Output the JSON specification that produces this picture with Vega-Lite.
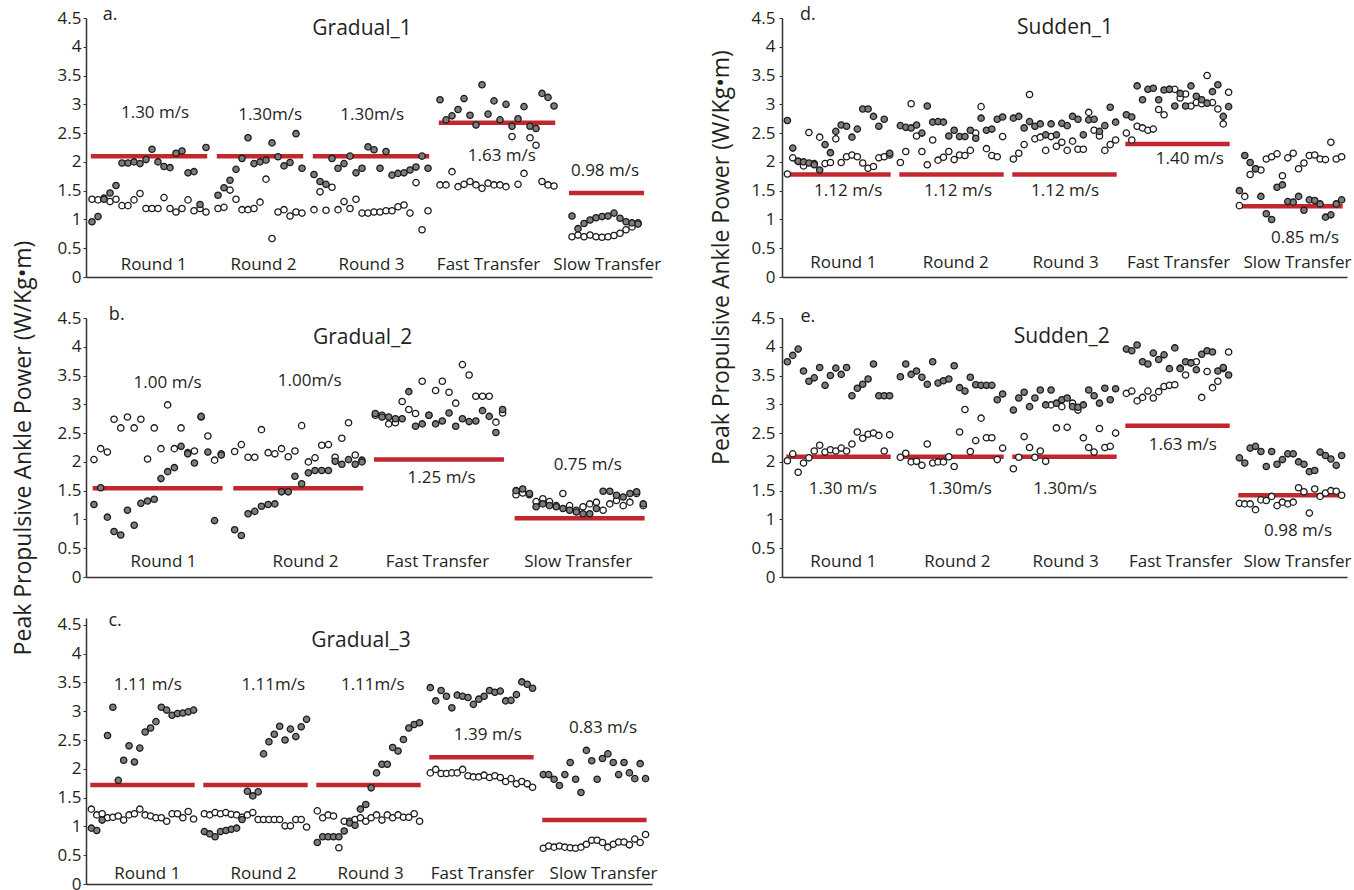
{
  "$schema": "https://vega.github.io/schema/vega-lite/v6.json",
  "background": "#ffffff",
  "padding": {"left": 12, "top": 6, "right": 5, "bottom": 0},
  "config": {
    "view": {"stroke": null},
    "axis": {"grid": false, "domainColor": "#333333", "domainWidth": 1.5, "tickColor": "#333333", "labelFont": "Open Sans", "labelFontSize": 17, "labelColor": "#231f20", "labelFlush": false, "labelOverlap": false, "labelBound": false},
    "axisX": {"ticks": false, "tickSize": 0, "labelBaseline": "alphabetic"},
    "axisY": {"tickSize": 3, "labelPadding": 2},
    "text": {"font": "Open Sans", "color": "#231f20"}
  },
  "datasets": {
    "targets": [
      {"p":"a","c":"R1","t0":0.8,"t1":20.2,"v":2.10,"speed":"1.30 m/s","lx":11.5,"ly":2.85},
      {"p":"a","c":"R2","t0":21.8,"t1":36.2,"v":2.10,"speed":"1.30m/s","lx":30.7,"ly":2.82},
      {"p":"a","c":"R3","t0":37.8,"t1":57.2,"v":2.10,"speed":"1.30m/s","lx":47.7,"ly":2.82},
      {"p":"a","c":"F","t0":58.8,"t1":78.2,"v":2.68,"speed":"1.63 m/s","lx":69.3,"ly":2.10},
      {"p":"a","c":"S","t0":80.5,"t1":93.0,"v":1.46,"speed":"0.98 m/s","lx":86.5,"ly":1.84},
      {"p":"b","c":"R1","t0":0.8,"t1":20.2,"v":1.54,"speed":"1.00 m/s","lx":12.0,"ly":3.37},
      {"p":"b","c":"R2","t0":21.8,"t1":41.2,"v":1.54,"speed":"1.00m/s","lx":33.2,"ly":3.41},
      {"p":"b","c":"F","t0":42.8,"t1":62.2,"v":2.04,"speed":"1.25 m/s","lx":52.9,"ly":1.72},
      {"p":"b","c":"S","t0":63.8,"t1":83.2,"v":1.02,"speed":"0.75 m/s","lx":74.7,"ly":1.94},
      {"p":"c","c":"R1","t0":0.8,"t1":20.2,"v":1.72,"speed":"1.11 m/s","lx":11.5,"ly":3.45},
      {"p":"c","c":"R2","t0":21.8,"t1":41.2,"v":1.72,"speed":"1.11m/s","lx":34.8,"ly":3.45},
      {"p":"c","c":"R3","t0":42.8,"t1":62.2,"v":1.72,"speed":"1.11m/s","lx":53.3,"ly":3.45},
      {"p":"c","c":"F","t0":63.8,"t1":83.2,"v":2.20,"speed":"1.39 m/s","lx":74.7,"ly":2.59},
      {"p":"c","c":"S","t0":84.8,"t1":104.2,"v":1.11,"speed":"0.83 m/s","lx":96.1,"ly":2.71},
      {"p":"d","c":"R1","t0":0.8,"t1":20.2,"v":1.78,"speed":"1.12 m/s","lx":12.3,"ly":1.49},
      {"p":"d","c":"R2","t0":21.8,"t1":41.2,"v":1.78,"speed":"1.12 m/s","lx":32.7,"ly":1.50},
      {"p":"d","c":"R3","t0":42.8,"t1":62.2,"v":1.78,"speed":"1.12 m/s","lx":52.6,"ly":1.50},
      {"p":"d","c":"F","t0":63.8,"t1":83.2,"v":2.31,"speed":"1.40 m/s","lx":75.8,"ly":2.05},
      {"p":"d","c":"S","t0":84.8,"t1":104.2,"v":1.23,"speed":"0.85 m/s","lx":97.2,"ly":0.68},
      {"p":"e","c":"R1","t0":0.8,"t1":20.2,"v":2.09,"speed":"1.30 m/s","lx":11.3,"ly":1.53},
      {"p":"e","c":"R2","t0":21.8,"t1":41.2,"v":2.09,"speed":"1.30m/s","lx":33.1,"ly":1.53},
      {"p":"e","c":"R3","t0":42.8,"t1":62.2,"v":2.09,"speed":"1.30m/s","lx":52.6,"ly":1.53},
      {"p":"e","c":"F","t0":63.8,"t1":83.2,"v":2.63,"speed":"1.63 m/s","lx":74.5,"ly":2.29},
      {"p":"e","c":"S","t0":84.8,"t1":104.2,"v":1.42,"speed":"0.98 m/s","lx":95.9,"ly":0.80}
    ],
    "pts": [
      {"p":"a","c":"R1","s":"f","t":1,"v":0.96},{"p":"a","c":"R1","s":"f","t":2,"v":1.05},{"p":"a","c":"R1","s":"f","t":3,"v":1.35},{"p":"a","c":"R1","s":"f","t":4,"v":1.46},{"p":"a","c":"R1","s":"f","t":5,"v":1.59},
      {"p":"a","c":"R1","s":"f","t":6,"v":1.98},{"p":"a","c":"R1","s":"f","t":7,"v":1.98},{"p":"a","c":"R1","s":"f","t":8,"v":2.00},{"p":"a","c":"R1","s":"f","t":9,"v":1.97},{"p":"a","c":"R1","s":"f","t":10,"v":2.04},
      {"p":"a","c":"R1","s":"f","t":11,"v":2.22},{"p":"a","c":"R1","s":"f","t":12,"v":2.00},{"p":"a","c":"R1","s":"f","t":13,"v":1.92},{"p":"a","c":"R1","s":"f","t":14,"v":1.90},{"p":"a","c":"R1","s":"f","t":15,"v":2.15},
      {"p":"a","c":"R1","s":"f","t":16,"v":2.19},{"p":"a","c":"R1","s":"f","t":17,"v":1.81},{"p":"a","c":"R1","s":"f","t":18,"v":1.83},{"p":"a","c":"R1","s":"f","t":19,"v":1.26},{"p":"a","c":"R1","s":"f","t":20,"v":2.25},
      {"p":"a","c":"R1","s":"o","t":1,"v":1.35},{"p":"a","c":"R1","s":"o","t":2,"v":1.34},{"p":"a","c":"R1","s":"o","t":3,"v":1.37},{"p":"a","c":"R1","s":"o","t":4,"v":1.31},{"p":"a","c":"R1","s":"o","t":5,"v":1.35},
      {"p":"a","c":"R1","s":"o","t":6,"v":1.24},{"p":"a","c":"R1","s":"o","t":7,"v":1.24},{"p":"a","c":"R1","s":"o","t":8,"v":1.34},{"p":"a","c":"R1","s":"o","t":9,"v":1.45},{"p":"a","c":"R1","s":"o","t":10,"v":1.19},
      {"p":"a","c":"R1","s":"o","t":11,"v":1.19},{"p":"a","c":"R1","s":"o","t":12,"v":1.19},{"p":"a","c":"R1","s":"o","t":13,"v":1.38},{"p":"a","c":"R1","s":"o","t":14,"v":1.19},{"p":"a","c":"R1","s":"o","t":15,"v":1.13},
      {"p":"a","c":"R1","s":"o","t":16,"v":1.19},{"p":"a","c":"R1","s":"o","t":17,"v":1.34},{"p":"a","c":"R1","s":"o","t":18,"v":1.15},{"p":"a","c":"R1","s":"o","t":19,"v":1.19},{"p":"a","c":"R1","s":"o","t":20,"v":1.13},
      {"p":"a","c":"R2","s":"f","t":22,"v":1.42},{"p":"a","c":"R2","s":"f","t":23,"v":1.55},{"p":"a","c":"R2","s":"f","t":24,"v":1.68},{"p":"a","c":"R2","s":"f","t":25,"v":1.87},{"p":"a","c":"R2","s":"f","t":26,"v":2.06},
      {"p":"a","c":"R2","s":"f","t":27,"v":2.42},{"p":"a","c":"R2","s":"f","t":28,"v":1.97},{"p":"a","c":"R2","s":"f","t":29,"v":2.00},{"p":"a","c":"R2","s":"f","t":30,"v":2.03},{"p":"a","c":"R2","s":"f","t":31,"v":2.33},
      {"p":"a","c":"R2","s":"f","t":32,"v":2.09},{"p":"a","c":"R2","s":"f","t":33,"v":1.93},{"p":"a","c":"R2","s":"f","t":34,"v":1.99},{"p":"a","c":"R2","s":"f","t":35,"v":2.49},{"p":"a","c":"R2","s":"f","t":36,"v":1.89},
      {"p":"a","c":"R2","s":"o","t":22,"v":1.19},{"p":"a","c":"R2","s":"o","t":23,"v":1.21},{"p":"a","c":"R2","s":"o","t":24,"v":1.51},{"p":"a","c":"R2","s":"o","t":25,"v":1.35},{"p":"a","c":"R2","s":"o","t":26,"v":1.17},
      {"p":"a","c":"R2","s":"o","t":27,"v":1.17},{"p":"a","c":"R2","s":"o","t":28,"v":1.19},{"p":"a","c":"R2","s":"o","t":29,"v":1.30},{"p":"a","c":"R2","s":"o","t":30,"v":1.70},{"p":"a","c":"R2","s":"o","t":31,"v":0.67},
      {"p":"a","c":"R2","s":"o","t":32,"v":1.13},{"p":"a","c":"R2","s":"o","t":33,"v":1.17},{"p":"a","c":"R2","s":"o","t":34,"v":1.06},{"p":"a","c":"R2","s":"o","t":35,"v":1.13},{"p":"a","c":"R2","s":"o","t":36,"v":1.11},
      {"p":"a","c":"R3","s":"f","t":38,"v":1.78},{"p":"a","c":"R3","s":"f","t":39,"v":1.66},{"p":"a","c":"R3","s":"f","t":40,"v":1.61},{"p":"a","c":"R3","s":"f","t":41,"v":2.06},{"p":"a","c":"R3","s":"f","t":42,"v":1.89},
      {"p":"a","c":"R3","s":"f","t":43,"v":1.97},{"p":"a","c":"R3","s":"f","t":44,"v":2.10},{"p":"a","c":"R3","s":"f","t":45,"v":1.81},{"p":"a","c":"R3","s":"f","t":46,"v":1.89},{"p":"a","c":"R3","s":"f","t":47,"v":2.26},
      {"p":"a","c":"R3","s":"f","t":48,"v":2.21},{"p":"a","c":"R3","s":"f","t":49,"v":1.89},{"p":"a","c":"R3","s":"f","t":50,"v":2.18},{"p":"a","c":"R3","s":"f","t":51,"v":1.77},{"p":"a","c":"R3","s":"f","t":52,"v":1.80},
      {"p":"a","c":"R3","s":"f","t":53,"v":1.81},{"p":"a","c":"R3","s":"f","t":54,"v":1.86},{"p":"a","c":"R3","s":"f","t":55,"v":1.91},{"p":"a","c":"R3","s":"f","t":56,"v":2.10},{"p":"a","c":"R3","s":"f","t":57,"v":1.89},
      {"p":"a","c":"R3","s":"o","t":38,"v":1.17},{"p":"a","c":"R3","s":"o","t":39,"v":1.48},{"p":"a","c":"R3","s":"o","t":40,"v":1.16},{"p":"a","c":"R3","s":"o","t":41,"v":1.56},{"p":"a","c":"R3","s":"o","t":42,"v":1.17},
      {"p":"a","c":"R3","s":"o","t":43,"v":1.31},{"p":"a","c":"R3","s":"o","t":44,"v":1.19},{"p":"a","c":"R3","s":"o","t":45,"v":1.35},{"p":"a","c":"R3","s":"o","t":46,"v":1.11},{"p":"a","c":"R3","s":"o","t":47,"v":1.11},
      {"p":"a","c":"R3","s":"o","t":48,"v":1.13},{"p":"a","c":"R3","s":"o","t":49,"v":1.13},{"p":"a","c":"R3","s":"o","t":50,"v":1.15},{"p":"a","c":"R3","s":"o","t":51,"v":1.15},{"p":"a","c":"R3","s":"o","t":52,"v":1.22},
      {"p":"a","c":"R3","s":"o","t":53,"v":1.25},{"p":"a","c":"R3","s":"o","t":54,"v":1.11},{"p":"a","c":"R3","s":"o","t":55,"v":1.64},{"p":"a","c":"R3","s":"o","t":56,"v":0.82},{"p":"a","c":"R3","s":"o","t":57,"v":1.15},
      {"p":"a","c":"F","s":"f","t":59,"v":3.08},{"p":"a","c":"F","s":"f","t":60,"v":2.73},{"p":"a","c":"F","s":"f","t":61,"v":2.80},{"p":"a","c":"F","s":"f","t":62,"v":2.91},{"p":"a","c":"F","s":"f","t":63,"v":3.10},
      {"p":"a","c":"F","s":"f","t":64,"v":2.81},{"p":"a","c":"F","s":"f","t":65,"v":2.64},{"p":"a","c":"F","s":"f","t":66,"v":3.34},{"p":"a","c":"F","s":"f","t":67,"v":2.83},{"p":"a","c":"F","s":"f","t":68,"v":3.06},
      {"p":"a","c":"F","s":"f","t":69,"v":2.73},{"p":"a","c":"F","s":"f","t":70,"v":3.00},{"p":"a","c":"F","s":"f","t":71,"v":2.62},{"p":"a","c":"F","s":"f","t":72,"v":2.75},{"p":"a","c":"F","s":"f","t":73,"v":2.96},
      {"p":"a","c":"F","s":"f","t":74,"v":2.62},{"p":"a","c":"F","s":"f","t":75,"v":2.58},{"p":"a","c":"F","s":"f","t":76,"v":3.19},{"p":"a","c":"F","s":"f","t":77,"v":3.12},{"p":"a","c":"F","s":"f","t":78,"v":2.97},
      {"p":"a","c":"F","s":"o","t":59,"v":1.60},{"p":"a","c":"F","s":"o","t":60,"v":1.60},{"p":"a","c":"F","s":"o","t":61,"v":1.83},{"p":"a","c":"F","s":"o","t":62,"v":1.57},{"p":"a","c":"F","s":"o","t":63,"v":1.61},
      {"p":"a","c":"F","s":"o","t":64,"v":1.66},{"p":"a","c":"F","s":"o","t":65,"v":1.60},{"p":"a","c":"F","s":"o","t":66,"v":1.54},{"p":"a","c":"F","s":"o","t":67,"v":1.63},{"p":"a","c":"F","s":"o","t":68,"v":1.60},
      {"p":"a","c":"F","s":"o","t":69,"v":1.60},{"p":"a","c":"F","s":"o","t":70,"v":1.57},{"p":"a","c":"F","s":"o","t":71,"v":2.44},{"p":"a","c":"F","s":"o","t":72,"v":1.61},{"p":"a","c":"F","s":"o","t":73,"v":1.80},
      {"p":"a","c":"F","s":"o","t":74,"v":2.42},{"p":"a","c":"F","s":"o","t":75,"v":2.29},{"p":"a","c":"F","s":"o","t":76,"v":1.66},{"p":"a","c":"F","s":"o","t":77,"v":1.60},{"p":"a","c":"F","s":"o","t":78,"v":1.58},
      {"p":"a","c":"S","s":"f","t":81,"v":1.06},{"p":"a","c":"S","s":"f","t":82,"v":0.84},{"p":"a","c":"S","s":"f","t":83,"v":0.93},{"p":"a","c":"S","s":"f","t":84,"v":0.99},{"p":"a","c":"S","s":"f","t":85,"v":1.03},{"p":"a","c":"S","s":"f","t":86,"v":1.05},
      {"p":"a","c":"S","s":"f","t":87,"v":1.06},{"p":"a","c":"S","s":"f","t":88,"v":1.11},{"p":"a","c":"S","s":"f","t":89,"v":1.02},{"p":"a","c":"S","s":"f","t":90,"v":0.96},{"p":"a","c":"S","s":"f","t":91,"v":0.94},{"p":"a","c":"S","s":"f","t":92,"v":0.92},
      {"p":"a","c":"S","s":"o","t":81,"v":0.70},{"p":"a","c":"S","s":"o","t":82,"v":0.73},{"p":"a","c":"S","s":"o","t":83,"v":0.70},{"p":"a","c":"S","s":"o","t":84,"v":0.73},{"p":"a","c":"S","s":"o","t":85,"v":0.70},{"p":"a","c":"S","s":"o","t":86,"v":0.69},
      {"p":"a","c":"S","s":"o","t":87,"v":0.70},{"p":"a","c":"S","s":"o","t":88,"v":0.72},{"p":"a","c":"S","s":"o","t":89,"v":0.76},{"p":"a","c":"S","s":"o","t":90,"v":0.82},{"p":"a","c":"S","s":"o","t":91,"v":0.87},{"p":"a","c":"S","s":"o","t":92,"v":0.94},

      {"p":"b","c":"R1","s":"f","t":1,"v":1.26},{"p":"b","c":"R1","s":"f","t":2,"v":1.55},{"p":"b","c":"R1","s":"f","t":3,"v":1.04},{"p":"b","c":"R1","s":"f","t":4,"v":0.79},{"p":"b","c":"R1","s":"f","t":5,"v":0.73},
      {"p":"b","c":"R1","s":"f","t":6,"v":1.16},{"p":"b","c":"R1","s":"f","t":7,"v":0.90},{"p":"b","c":"R1","s":"f","t":8,"v":1.28},{"p":"b","c":"R1","s":"f","t":9,"v":1.32},{"p":"b","c":"R1","s":"f","t":10,"v":1.35},
      {"p":"b","c":"R1","s":"f","t":11,"v":1.71},{"p":"b","c":"R1","s":"f","t":12,"v":1.83},{"p":"b","c":"R1","s":"f","t":13,"v":1.90},{"p":"b","c":"R1","s":"f","t":14,"v":2.27},{"p":"b","c":"R1","s":"f","t":15,"v":2.14},
      {"p":"b","c":"R1","s":"f","t":16,"v":1.98},{"p":"b","c":"R1","s":"f","t":17,"v":2.79},{"p":"b","c":"R1","s":"f","t":18,"v":2.17},{"p":"b","c":"R1","s":"f","t":19,"v":0.98},{"p":"b","c":"R1","s":"f","t":20,"v":2.12},
      {"p":"b","c":"R1","s":"o","t":1,"v":2.04},{"p":"b","c":"R1","s":"o","t":2,"v":2.23},{"p":"b","c":"R1","s":"o","t":3,"v":2.17},{"p":"b","c":"R1","s":"o","t":4,"v":2.74},{"p":"b","c":"R1","s":"o","t":5,"v":2.59},
      {"p":"b","c":"R1","s":"o","t":6,"v":2.78},{"p":"b","c":"R1","s":"o","t":7,"v":2.59},{"p":"b","c":"R1","s":"o","t":8,"v":2.74},{"p":"b","c":"R1","s":"o","t":9,"v":2.05},{"p":"b","c":"R1","s":"o","t":10,"v":2.59},
      {"p":"b","c":"R1","s":"o","t":11,"v":2.23},{"p":"b","c":"R1","s":"o","t":12,"v":2.99},{"p":"b","c":"R1","s":"o","t":13,"v":2.23},{"p":"b","c":"R1","s":"o","t":14,"v":2.59},{"p":"b","c":"R1","s":"o","t":15,"v":2.16},
      {"p":"b","c":"R1","s":"o","t":16,"v":2.19},{"p":"b","c":"R1","s":"o","t":17,"v":2.78},{"p":"b","c":"R1","s":"o","t":18,"v":2.45},{"p":"b","c":"R1","s":"o","t":19,"v":2.03},{"p":"b","c":"R1","s":"o","t":20,"v":2.14},
      {"p":"b","c":"R2","s":"f","t":22,"v":0.82},{"p":"b","c":"R2","s":"f","t":23,"v":0.72},{"p":"b","c":"R2","s":"f","t":24,"v":1.10},{"p":"b","c":"R2","s":"f","t":25,"v":1.14},{"p":"b","c":"R2","s":"f","t":26,"v":1.23},
      {"p":"b","c":"R2","s":"f","t":27,"v":1.26},{"p":"b","c":"R2","s":"f","t":28,"v":1.27},{"p":"b","c":"R2","s":"f","t":29,"v":1.48},{"p":"b","c":"R2","s":"f","t":30,"v":1.48},{"p":"b","c":"R2","s":"f","t":31,"v":1.75},
      {"p":"b","c":"R2","s":"f","t":32,"v":1.62},{"p":"b","c":"R2","s":"f","t":33,"v":1.81},{"p":"b","c":"R2","s":"f","t":34,"v":1.85},{"p":"b","c":"R2","s":"f","t":35,"v":1.85},{"p":"b","c":"R2","s":"f","t":36,"v":1.85},
      {"p":"b","c":"R2","s":"f","t":37,"v":2.01},{"p":"b","c":"R2","s":"f","t":38,"v":1.96},{"p":"b","c":"R2","s":"f","t":39,"v":2.04},{"p":"b","c":"R2","s":"f","t":40,"v":1.96},{"p":"b","c":"R2","s":"f","t":41,"v":2.00},
      {"p":"b","c":"R2","s":"o","t":22,"v":2.18},{"p":"b","c":"R2","s":"o","t":23,"v":2.30},{"p":"b","c":"R2","s":"o","t":24,"v":2.08},{"p":"b","c":"R2","s":"o","t":25,"v":2.08},{"p":"b","c":"R2","s":"o","t":26,"v":2.56},
      {"p":"b","c":"R2","s":"o","t":27,"v":2.16},{"p":"b","c":"R2","s":"o","t":28,"v":2.14},{"p":"b","c":"R2","s":"o","t":29,"v":2.23},{"p":"b","c":"R2","s":"o","t":30,"v":2.09},{"p":"b","c":"R2","s":"o","t":31,"v":2.19},
      {"p":"b","c":"R2","s":"o","t":32,"v":2.63},{"p":"b","c":"R2","s":"o","t":33,"v":2.00},{"p":"b","c":"R2","s":"o","t":34,"v":2.07},{"p":"b","c":"R2","s":"o","t":35,"v":2.29},{"p":"b","c":"R2","s":"o","t":36,"v":2.30},
      {"p":"b","c":"R2","s":"o","t":37,"v":2.08},{"p":"b","c":"R2","s":"o","t":38,"v":2.41},{"p":"b","c":"R2","s":"o","t":39,"v":2.68},{"p":"b","c":"R2","s":"o","t":40,"v":2.12},{"p":"b","c":"R2","s":"o","t":41,"v":2.03},
      {"p":"b","c":"F","s":"f","t":43,"v":2.84},{"p":"b","c":"F","s":"f","t":44,"v":2.78},{"p":"b","c":"F","s":"f","t":45,"v":2.78},{"p":"b","c":"F","s":"f","t":46,"v":2.75},{"p":"b","c":"F","s":"f","t":47,"v":2.75},
      {"p":"b","c":"F","s":"f","t":48,"v":3.22},{"p":"b","c":"F","s":"f","t":49,"v":2.62},{"p":"b","c":"F","s":"f","t":50,"v":2.66},{"p":"b","c":"F","s":"f","t":51,"v":2.81},{"p":"b","c":"F","s":"f","t":52,"v":2.66},
      {"p":"b","c":"F","s":"f","t":53,"v":2.71},{"p":"b","c":"F","s":"f","t":54,"v":2.85},{"p":"b","c":"F","s":"f","t":55,"v":2.62},{"p":"b","c":"F","s":"f","t":56,"v":2.75},{"p":"b","c":"F","s":"f","t":57,"v":2.70},
      {"p":"b","c":"F","s":"f","t":58,"v":2.71},{"p":"b","c":"F","s":"f","t":59,"v":2.89},{"p":"b","c":"F","s":"f","t":60,"v":2.79},{"p":"b","c":"F","s":"f","t":61,"v":2.51},{"p":"b","c":"F","s":"f","t":62,"v":2.91},
      {"p":"b","c":"F","s":"o","t":43,"v":2.81},{"p":"b","c":"F","s":"o","t":44,"v":2.81},{"p":"b","c":"F","s":"o","t":45,"v":2.66},{"p":"b","c":"F","s":"o","t":46,"v":2.68},{"p":"b","c":"F","s":"o","t":47,"v":3.05},
      {"p":"b","c":"F","s":"o","t":48,"v":2.91},{"p":"b","c":"F","s":"o","t":49,"v":2.84},{"p":"b","c":"F","s":"o","t":50,"v":3.40},{"p":"b","c":"F","s":"o","t":51,"v":2.81},{"p":"b","c":"F","s":"o","t":52,"v":3.24},
      {"p":"b","c":"F","s":"o","t":53,"v":3.40},{"p":"b","c":"F","s":"o","t":54,"v":3.21},{"p":"b","c":"F","s":"o","t":55,"v":3.02},{"p":"b","c":"F","s":"o","t":56,"v":3.69},{"p":"b","c":"F","s":"o","t":57,"v":3.51},
      {"p":"b","c":"F","s":"o","t":58,"v":3.14},{"p":"b","c":"F","s":"o","t":59,"v":3.14},{"p":"b","c":"F","s":"o","t":60,"v":3.14},{"p":"b","c":"F","s":"o","t":61,"v":2.69},{"p":"b","c":"F","s":"o","t":62,"v":2.85},
      {"p":"b","c":"S","s":"f","t":64,"v":1.50},{"p":"b","c":"S","s":"f","t":65,"v":1.53},{"p":"b","c":"S","s":"f","t":66,"v":1.45},{"p":"b","c":"S","s":"f","t":67,"v":1.22},{"p":"b","c":"S","s":"f","t":68,"v":1.27},
      {"p":"b","c":"S","s":"f","t":69,"v":1.24},{"p":"b","c":"S","s":"f","t":70,"v":1.22},{"p":"b","c":"S","s":"f","t":71,"v":1.19},{"p":"b","c":"S","s":"f","t":72,"v":1.16},{"p":"b","c":"S","s":"f","t":73,"v":1.13},
      {"p":"b","c":"S","s":"f","t":74,"v":1.10},{"p":"b","c":"S","s":"f","t":75,"v":1.10},{"p":"b","c":"S","s":"f","t":76,"v":1.19},{"p":"b","c":"S","s":"f","t":77,"v":1.49},{"p":"b","c":"S","s":"f","t":78,"v":1.49},
      {"p":"b","c":"S","s":"f","t":79,"v":1.42},{"p":"b","c":"S","s":"f","t":80,"v":1.39},{"p":"b","c":"S","s":"f","t":81,"v":1.45},{"p":"b","c":"S","s":"f","t":82,"v":1.48},{"p":"b","c":"S","s":"f","t":83,"v":1.27},
      {"p":"b","c":"S","s":"o","t":64,"v":1.43},{"p":"b","c":"S","s":"o","t":65,"v":1.46},{"p":"b","c":"S","s":"o","t":66,"v":1.43},{"p":"b","c":"S","s":"o","t":67,"v":1.31},{"p":"b","c":"S","s":"o","t":68,"v":1.36},
      {"p":"b","c":"S","s":"o","t":69,"v":1.31},{"p":"b","c":"S","s":"o","t":70,"v":1.24},{"p":"b","c":"S","s":"o","t":71,"v":1.45},{"p":"b","c":"S","s":"o","t":72,"v":1.24},{"p":"b","c":"S","s":"o","t":73,"v":1.16},
      {"p":"b","c":"S","s":"o","t":74,"v":1.22},{"p":"b","c":"S","s":"o","t":75,"v":1.27},{"p":"b","c":"S","s":"o","t":76,"v":1.30},{"p":"b","c":"S","s":"o","t":77,"v":1.16},{"p":"b","c":"S","s":"o","t":78,"v":1.27},
      {"p":"b","c":"S","s":"o","t":79,"v":1.33},{"p":"b","c":"S","s":"o","t":80,"v":1.24},{"p":"b","c":"S","s":"o","t":81,"v":1.30},{"p":"b","c":"S","s":"o","t":82,"v":1.45},{"p":"b","c":"S","s":"o","t":83,"v":1.24},

      {"p":"c","c":"R1","s":"f","t":1,"v":0.97},{"p":"c","c":"R1","s":"f","t":2,"v":0.93},{"p":"c","c":"R1","s":"f","t":3,"v":1.11},{"p":"c","c":"R1","s":"f","t":4,"v":2.58},{"p":"c","c":"R1","s":"f","t":5,"v":3.07},
      {"p":"c","c":"R1","s":"f","t":6,"v":1.80},{"p":"c","c":"R1","s":"f","t":7,"v":2.15},{"p":"c","c":"R1","s":"f","t":8,"v":2.40},{"p":"c","c":"R1","s":"f","t":9,"v":2.12},{"p":"c","c":"R1","s":"f","t":10,"v":2.36},
      {"p":"c","c":"R1","s":"f","t":11,"v":2.64},{"p":"c","c":"R1","s":"f","t":12,"v":2.71},{"p":"c","c":"R1","s":"f","t":13,"v":2.82},{"p":"c","c":"R1","s":"f","t":14,"v":3.07},{"p":"c","c":"R1","s":"f","t":15,"v":3.02},
      {"p":"c","c":"R1","s":"f","t":16,"v":2.93},{"p":"c","c":"R1","s":"f","t":17,"v":2.96},{"p":"c","c":"R1","s":"f","t":18,"v":2.97},{"p":"c","c":"R1","s":"f","t":19,"v":2.99},{"p":"c","c":"R1","s":"f","t":20,"v":3.02},
      {"p":"c","c":"R1","s":"o","t":1,"v":1.30},{"p":"c","c":"R1","s":"o","t":2,"v":1.20},{"p":"c","c":"R1","s":"o","t":3,"v":1.22},{"p":"c","c":"R1","s":"o","t":4,"v":1.15},{"p":"c","c":"R1","s":"o","t":5,"v":1.16},
      {"p":"c","c":"R1","s":"o","t":6,"v":1.18},{"p":"c","c":"R1","s":"o","t":7,"v":1.11},{"p":"c","c":"R1","s":"o","t":8,"v":1.20},{"p":"c","c":"R1","s":"o","t":9,"v":1.22},{"p":"c","c":"R1","s":"o","t":10,"v":1.30},
      {"p":"c","c":"R1","s":"o","t":11,"v":1.20},{"p":"c","c":"R1","s":"o","t":12,"v":1.18},{"p":"c","c":"R1","s":"o","t":13,"v":1.15},{"p":"c","c":"R1","s":"o","t":14,"v":1.15},{"p":"c","c":"R1","s":"o","t":15,"v":1.09},
      {"p":"c","c":"R1","s":"o","t":16,"v":1.22},{"p":"c","c":"R1","s":"o","t":17,"v":1.22},{"p":"c","c":"R1","s":"o","t":18,"v":1.15},{"p":"c","c":"R1","s":"o","t":19,"v":1.26},{"p":"c","c":"R1","s":"o","t":20,"v":1.13},
      {"p":"c","c":"R2","s":"f","t":22,"v":0.91},{"p":"c","c":"R2","s":"f","t":23,"v":0.87},{"p":"c","c":"R2","s":"f","t":24,"v":0.82},{"p":"c","c":"R2","s":"f","t":25,"v":0.91},{"p":"c","c":"R2","s":"f","t":26,"v":0.93},
      {"p":"c","c":"R2","s":"f","t":27,"v":0.95},{"p":"c","c":"R2","s":"f","t":28,"v":0.97},{"p":"c","c":"R2","s":"f","t":29,"v":1.12},{"p":"c","c":"R2","s":"f","t":30,"v":1.61},{"p":"c","c":"R2","s":"f","t":31,"v":1.53},
      {"p":"c","c":"R2","s":"f","t":32,"v":1.60},{"p":"c","c":"R2","s":"f","t":33,"v":2.26},{"p":"c","c":"R2","s":"f","t":34,"v":2.47},{"p":"c","c":"R2","s":"f","t":35,"v":2.60},{"p":"c","c":"R2","s":"f","t":36,"v":2.74},
      {"p":"c","c":"R2","s":"f","t":37,"v":2.50},{"p":"c","c":"R2","s":"f","t":38,"v":2.69},{"p":"c","c":"R2","s":"f","t":39,"v":2.56},{"p":"c","c":"R2","s":"f","t":40,"v":2.73},{"p":"c","c":"R2","s":"f","t":41,"v":2.86},
      {"p":"c","c":"R2","s":"o","t":22,"v":1.22},{"p":"c","c":"R2","s":"o","t":23,"v":1.20},{"p":"c","c":"R2","s":"o","t":24,"v":1.24},{"p":"c","c":"R2","s":"o","t":25,"v":1.22},{"p":"c","c":"R2","s":"o","t":26,"v":1.24},
      {"p":"c","c":"R2","s":"o","t":27,"v":1.21},{"p":"c","c":"R2","s":"o","t":28,"v":1.20},{"p":"c","c":"R2","s":"o","t":29,"v":1.16},{"p":"c","c":"R2","s":"o","t":30,"v":1.20},{"p":"c","c":"R2","s":"o","t":31,"v":1.24},
      {"p":"c","c":"R2","s":"o","t":32,"v":1.12},{"p":"c","c":"R2","s":"o","t":33,"v":1.12},{"p":"c","c":"R2","s":"o","t":34,"v":1.12},{"p":"c","c":"R2","s":"o","t":35,"v":1.12},{"p":"c","c":"R2","s":"o","t":36,"v":1.12},
      {"p":"c","c":"R2","s":"o","t":37,"v":1.01},{"p":"c","c":"R2","s":"o","t":38,"v":1.01},{"p":"c","c":"R2","s":"o","t":39,"v":1.12},{"p":"c","c":"R2","s":"o","t":40,"v":1.12},{"p":"c","c":"R2","s":"o","t":41,"v":0.99},
      {"p":"c","c":"R3","s":"f","t":43,"v":0.72},{"p":"c","c":"R3","s":"f","t":44,"v":0.82},{"p":"c","c":"R3","s":"f","t":45,"v":0.82},{"p":"c","c":"R3","s":"f","t":46,"v":0.82},{"p":"c","c":"R3","s":"f","t":47,"v":0.82},
      {"p":"c","c":"R3","s":"f","t":48,"v":0.92},{"p":"c","c":"R3","s":"f","t":49,"v":1.06},{"p":"c","c":"R3","s":"f","t":50,"v":1.02},{"p":"c","c":"R3","s":"f","t":51,"v":1.30},{"p":"c","c":"R3","s":"f","t":52,"v":1.38},
      {"p":"c","c":"R3","s":"f","t":53,"v":1.67},{"p":"c","c":"R3","s":"f","t":54,"v":1.93},{"p":"c","c":"R3","s":"f","t":55,"v":2.08},{"p":"c","c":"R3","s":"f","t":56,"v":2.08},{"p":"c","c":"R3","s":"f","t":57,"v":2.37},
      {"p":"c","c":"R3","s":"f","t":58,"v":2.31},{"p":"c","c":"R3","s":"f","t":59,"v":2.51},{"p":"c","c":"R3","s":"f","t":60,"v":2.71},{"p":"c","c":"R3","s":"f","t":61,"v":2.77},{"p":"c","c":"R3","s":"f","t":62,"v":2.80},
      {"p":"c","c":"R3","s":"o","t":43,"v":1.27},{"p":"c","c":"R3","s":"o","t":44,"v":1.15},{"p":"c","c":"R3","s":"o","t":45,"v":1.20},{"p":"c","c":"R3","s":"o","t":46,"v":1.18},{"p":"c","c":"R3","s":"o","t":47,"v":0.63},
      {"p":"c","c":"R3","s":"o","t":48,"v":1.09},{"p":"c","c":"R3","s":"o","t":49,"v":1.09},{"p":"c","c":"R3","s":"o","t":50,"v":1.12},{"p":"c","c":"R3","s":"o","t":51,"v":1.15},{"p":"c","c":"R3","s":"o","t":52,"v":1.09},
      {"p":"c","c":"R3","s":"o","t":53,"v":1.15},{"p":"c","c":"R3","s":"o","t":54,"v":1.20},{"p":"c","c":"R3","s":"o","t":55,"v":1.11},{"p":"c","c":"R3","s":"o","t":56,"v":1.20},{"p":"c","c":"R3","s":"o","t":57,"v":1.15},
      {"p":"c","c":"R3","s":"o","t":58,"v":1.20},{"p":"c","c":"R3","s":"o","t":59,"v":1.16},{"p":"c","c":"R3","s":"o","t":60,"v":1.16},{"p":"c","c":"R3","s":"o","t":61,"v":1.22},{"p":"c","c":"R3","s":"o","t":62,"v":1.09},
      {"p":"c","c":"F","s":"f","t":64,"v":3.41},{"p":"c","c":"F","s":"f","t":65,"v":3.18},{"p":"c","c":"F","s":"f","t":66,"v":3.36},{"p":"c","c":"F","s":"f","t":67,"v":3.26},{"p":"c","c":"F","s":"f","t":68,"v":3.06},
      {"p":"c","c":"F","s":"f","t":69,"v":3.28},{"p":"c","c":"F","s":"f","t":70,"v":3.26},{"p":"c","c":"F","s":"f","t":71,"v":3.24},{"p":"c","c":"F","s":"f","t":72,"v":3.12},{"p":"c","c":"F","s":"f","t":73,"v":3.21},
      {"p":"c","c":"F","s":"f","t":74,"v":3.26},{"p":"c","c":"F","s":"f","t":75,"v":3.36},{"p":"c","c":"F","s":"f","t":76,"v":3.33},{"p":"c","c":"F","s":"f","t":77,"v":3.35},{"p":"c","c":"F","s":"f","t":78,"v":3.18},
      {"p":"c","c":"F","s":"f","t":79,"v":3.19},{"p":"c","c":"F","s":"f","t":80,"v":3.29},{"p":"c","c":"F","s":"f","t":81,"v":3.51},{"p":"c","c":"F","s":"f","t":82,"v":3.47},{"p":"c","c":"F","s":"f","t":83,"v":3.40},
      {"p":"c","c":"F","s":"o","t":64,"v":1.93},{"p":"c","c":"F","s":"o","t":65,"v":1.99},{"p":"c","c":"F","s":"o","t":66,"v":1.92},{"p":"c","c":"F","s":"o","t":67,"v":1.92},{"p":"c","c":"F","s":"o","t":68,"v":1.93},
      {"p":"c","c":"F","s":"o","t":69,"v":1.93},{"p":"c","c":"F","s":"o","t":70,"v":1.99},{"p":"c","c":"F","s":"o","t":71,"v":1.88},{"p":"c","c":"F","s":"o","t":72,"v":1.86},{"p":"c","c":"F","s":"o","t":73,"v":1.86},
      {"p":"c","c":"F","s":"o","t":74,"v":1.89},{"p":"c","c":"F","s":"o","t":75,"v":1.85},{"p":"c","c":"F","s":"o","t":76,"v":1.88},{"p":"c","c":"F","s":"o","t":77,"v":1.85},{"p":"c","c":"F","s":"o","t":78,"v":1.78},
      {"p":"c","c":"F","s":"o","t":79,"v":1.83},{"p":"c","c":"F","s":"o","t":80,"v":1.74},{"p":"c","c":"F","s":"o","t":81,"v":1.78},{"p":"c","c":"F","s":"o","t":82,"v":1.74},{"p":"c","c":"F","s":"o","t":83,"v":1.68},
      {"p":"c","c":"S","s":"f","t":85,"v":1.90},{"p":"c","c":"S","s":"f","t":86,"v":1.90},{"p":"c","c":"S","s":"f","t":87,"v":1.82},{"p":"c","c":"S","s":"f","t":88,"v":1.71},{"p":"c","c":"S","s":"f","t":89,"v":1.90},
      {"p":"c","c":"S","s":"f","t":90,"v":2.11},{"p":"c","c":"S","s":"f","t":91,"v":1.82},{"p":"c","c":"S","s":"f","t":92,"v":1.59},{"p":"c","c":"S","s":"f","t":93,"v":2.32},{"p":"c","c":"S","s":"f","t":94,"v":2.14},
      {"p":"c","c":"S","s":"f","t":95,"v":1.82},{"p":"c","c":"S","s":"f","t":96,"v":2.18},{"p":"c","c":"S","s":"f","t":97,"v":2.26},{"p":"c","c":"S","s":"f","t":98,"v":2.11},{"p":"c","c":"S","s":"f","t":99,"v":1.90},
      {"p":"c","c":"S","s":"f","t":100,"v":2.11},{"p":"c","c":"S","s":"f","t":101,"v":1.93},{"p":"c","c":"S","s":"f","t":102,"v":1.83},{"p":"c","c":"S","s":"f","t":103,"v":2.09},{"p":"c","c":"S","s":"f","t":104,"v":1.83},
      {"p":"c","c":"S","s":"o","t":85,"v":0.62},{"p":"c","c":"S","s":"o","t":86,"v":0.66},{"p":"c","c":"S","s":"o","t":87,"v":0.64},{"p":"c","c":"S","s":"o","t":88,"v":0.66},{"p":"c","c":"S","s":"o","t":89,"v":0.64},
      {"p":"c","c":"S","s":"o","t":90,"v":0.63},{"p":"c","c":"S","s":"o","t":91,"v":0.62},{"p":"c","c":"S","s":"o","t":92,"v":0.64},{"p":"c","c":"S","s":"o","t":93,"v":0.69},{"p":"c","c":"S","s":"o","t":94,"v":0.76},
      {"p":"c","c":"S","s":"o","t":95,"v":0.76},{"p":"c","c":"S","s":"o","t":96,"v":0.72},{"p":"c","c":"S","s":"o","t":97,"v":0.64},{"p":"c","c":"S","s":"o","t":98,"v":0.69},{"p":"c","c":"S","s":"o","t":99,"v":0.73},
      {"p":"c","c":"S","s":"o","t":100,"v":0.73},{"p":"c","c":"S","s":"o","t":101,"v":0.68},{"p":"c","c":"S","s":"o","t":102,"v":0.78},{"p":"c","c":"S","s":"o","t":103,"v":0.72},{"p":"c","c":"S","s":"o","t":104,"v":0.86},

      {"p":"d","c":"R1","s":"f","t":1,"v":2.72},{"p":"d","c":"R1","s":"f","t":2,"v":2.24},{"p":"d","c":"R1","s":"f","t":3,"v":2.01},{"p":"d","c":"R1","s":"f","t":4,"v":2.00},{"p":"d","c":"R1","s":"f","t":5,"v":1.98},
      {"p":"d","c":"R1","s":"f","t":6,"v":1.95},{"p":"d","c":"R1","s":"f","t":7,"v":1.86},{"p":"d","c":"R1","s":"f","t":8,"v":2.30},{"p":"d","c":"R1","s":"f","t":9,"v":2.16},{"p":"d","c":"R1","s":"f","t":10,"v":2.53},
      {"p":"d","c":"R1","s":"f","t":11,"v":2.64},{"p":"d","c":"R1","s":"f","t":12,"v":2.62},{"p":"d","c":"R1","s":"f","t":13,"v":2.43},{"p":"d","c":"R1","s":"f","t":14,"v":2.57},{"p":"d","c":"R1","s":"f","t":15,"v":2.92},
      {"p":"d","c":"R1","s":"f","t":16,"v":2.92},{"p":"d","c":"R1","s":"f","t":17,"v":2.79},{"p":"d","c":"R1","s":"f","t":18,"v":2.62},{"p":"d","c":"R1","s":"f","t":19,"v":2.74},{"p":"d","c":"R1","s":"f","t":20,"v":2.15},
      {"p":"d","c":"R1","s":"o","t":1,"v":1.79},{"p":"d","c":"R1","s":"o","t":2,"v":2.07},{"p":"d","c":"R1","s":"o","t":3,"v":2.01},{"p":"d","c":"R1","s":"o","t":4,"v":1.93},{"p":"d","c":"R1","s":"o","t":5,"v":2.51},
      {"p":"d","c":"R1","s":"o","t":6,"v":1.97},{"p":"d","c":"R1","s":"o","t":7,"v":2.43},{"p":"d","c":"R1","s":"o","t":8,"v":1.97},{"p":"d","c":"R1","s":"o","t":9,"v":1.99},{"p":"d","c":"R1","s":"o","t":10,"v":2.40},
      {"p":"d","c":"R1","s":"o","t":11,"v":1.99},{"p":"d","c":"R1","s":"o","t":12,"v":2.09},{"p":"d","c":"R1","s":"o","t":13,"v":2.12},{"p":"d","c":"R1","s":"o","t":14,"v":2.09},{"p":"d","c":"R1","s":"o","t":15,"v":1.98},
      {"p":"d","c":"R1","s":"o","t":16,"v":1.89},{"p":"d","c":"R1","s":"o","t":17,"v":1.92},{"p":"d","c":"R1","s":"o","t":18,"v":2.07},{"p":"d","c":"R1","s":"o","t":19,"v":2.09},{"p":"d","c":"R1","s":"o","t":20,"v":2.12},
      {"p":"d","c":"R2","s":"f","t":22,"v":2.63},{"p":"d","c":"R2","s":"f","t":23,"v":2.60},{"p":"d","c":"R2","s":"f","t":24,"v":2.59},{"p":"d","c":"R2","s":"f","t":25,"v":2.64},{"p":"d","c":"R2","s":"f","t":26,"v":2.50},
      {"p":"d","c":"R2","s":"f","t":27,"v":2.97},{"p":"d","c":"R2","s":"f","t":28,"v":2.69},{"p":"d","c":"R2","s":"f","t":29,"v":2.70},{"p":"d","c":"R2","s":"f","t":30,"v":2.69},{"p":"d","c":"R2","s":"f","t":31,"v":2.45},
      {"p":"d","c":"R2","s":"f","t":32,"v":2.55},{"p":"d","c":"R2","s":"f","t":33,"v":2.44},{"p":"d","c":"R2","s":"f","t":34,"v":2.44},{"p":"d","c":"R2","s":"f","t":35,"v":2.55},{"p":"d","c":"R2","s":"f","t":36,"v":2.41},
      {"p":"d","c":"R2","s":"f","t":37,"v":2.76},{"p":"d","c":"R2","s":"f","t":38,"v":2.55},{"p":"d","c":"R2","s":"f","t":39,"v":2.57},{"p":"d","c":"R2","s":"f","t":40,"v":2.74},{"p":"d","c":"R2","s":"f","t":41,"v":2.78},
      {"p":"d","c":"R2","s":"o","t":22,"v":1.99},{"p":"d","c":"R2","s":"o","t":23,"v":2.18},{"p":"d","c":"R2","s":"o","t":24,"v":3.01},{"p":"d","c":"R2","s":"o","t":25,"v":2.45},{"p":"d","c":"R2","s":"o","t":26,"v":2.18},
      {"p":"d","c":"R2","s":"o","t":27,"v":1.95},{"p":"d","c":"R2","s":"o","t":28,"v":2.38},{"p":"d","c":"R2","s":"o","t":29,"v":2.03},{"p":"d","c":"R2","s":"o","t":30,"v":2.08},{"p":"d","c":"R2","s":"o","t":31,"v":2.18},
      {"p":"d","c":"R2","s":"o","t":32,"v":2.04},{"p":"d","c":"R2","s":"o","t":33,"v":2.12},{"p":"d","c":"R2","s":"o","t":34,"v":2.11},{"p":"d","c":"R2","s":"o","t":35,"v":2.20},{"p":"d","c":"R2","s":"o","t":36,"v":2.50},
      {"p":"d","c":"R2","s":"o","t":37,"v":2.96},{"p":"d","c":"R2","s":"o","t":38,"v":2.23},{"p":"d","c":"R2","s":"o","t":39,"v":2.11},{"p":"d","c":"R2","s":"o","t":40,"v":2.09},{"p":"d","c":"R2","s":"o","t":41,"v":2.44},
      {"p":"d","c":"R3","s":"f","t":43,"v":2.76},{"p":"d","c":"R3","s":"f","t":44,"v":2.79},{"p":"d","c":"R3","s":"f","t":45,"v":2.59},{"p":"d","c":"R3","s":"f","t":46,"v":2.70},{"p":"d","c":"R3","s":"f","t":47,"v":2.62},
      {"p":"d","c":"R3","s":"f","t":48,"v":2.66},{"p":"d","c":"R3","s":"f","t":49,"v":2.47},{"p":"d","c":"R3","s":"f","t":50,"v":2.66},{"p":"d","c":"R3","s":"f","t":51,"v":2.47},{"p":"d","c":"R3","s":"f","t":52,"v":2.67},
      {"p":"d","c":"R3","s":"f","t":53,"v":2.63},{"p":"d","c":"R3","s":"f","t":54,"v":2.79},{"p":"d","c":"R3","s":"f","t":55,"v":2.74},{"p":"d","c":"R3","s":"f","t":56,"v":2.47},{"p":"d","c":"R3","s":"f","t":57,"v":2.73},
      {"p":"d","c":"R3","s":"f","t":58,"v":2.74},{"p":"d","c":"R3","s":"f","t":59,"v":2.53},{"p":"d","c":"R3","s":"f","t":60,"v":2.63},{"p":"d","c":"R3","s":"f","t":61,"v":2.95},{"p":"d","c":"R3","s":"f","t":62,"v":2.69},
      {"p":"d","c":"R3","s":"o","t":43,"v":2.05},{"p":"d","c":"R3","s":"o","t":44,"v":2.15},{"p":"d","c":"R3","s":"o","t":45,"v":2.30},{"p":"d","c":"R3","s":"o","t":46,"v":3.17},{"p":"d","c":"R3","s":"o","t":47,"v":2.40},
      {"p":"d","c":"R3","s":"o","t":48,"v":2.43},{"p":"d","c":"R3","s":"o","t":49,"v":2.20},{"p":"d","c":"R3","s":"o","t":50,"v":2.44},{"p":"d","c":"R3","s":"o","t":51,"v":2.27},{"p":"d","c":"R3","s":"o","t":52,"v":2.34},
      {"p":"d","c":"R3","s":"o","t":53,"v":2.20},{"p":"d","c":"R3","s":"o","t":54,"v":2.36},{"p":"d","c":"R3","s":"o","t":55,"v":2.22},{"p":"d","c":"R3","s":"o","t":56,"v":2.22},{"p":"d","c":"R3","s":"o","t":57,"v":2.86},
      {"p":"d","c":"R3","s":"o","t":58,"v":2.55},{"p":"d","c":"R3","s":"o","t":59,"v":2.45},{"p":"d","c":"R3","s":"o","t":60,"v":2.20},{"p":"d","c":"R3","s":"o","t":61,"v":2.30},{"p":"d","c":"R3","s":"o","t":62,"v":2.38},
      {"p":"d","c":"F","s":"f","t":64,"v":2.82},{"p":"d","c":"F","s":"f","t":65,"v":2.78},{"p":"d","c":"F","s":"f","t":66,"v":3.32},{"p":"d","c":"F","s":"f","t":67,"v":3.08},{"p":"d","c":"F","s":"f","t":68,"v":3.26},
      {"p":"d","c":"F","s":"f","t":69,"v":3.28},{"p":"d","c":"F","s":"f","t":70,"v":3.08},{"p":"d","c":"F","s":"f","t":71,"v":3.25},{"p":"d","c":"F","s":"f","t":72,"v":3.26},{"p":"d","c":"F","s":"f","t":73,"v":2.97},
      {"p":"d","c":"F","s":"f","t":74,"v":3.19},{"p":"d","c":"F","s":"f","t":75,"v":2.97},{"p":"d","c":"F","s":"f","t":76,"v":3.32},{"p":"d","c":"F","s":"f","t":77,"v":3.14},{"p":"d","c":"F","s":"f","t":78,"v":3.08},
      {"p":"d","c":"F","s":"f","t":79,"v":3.02},{"p":"d","c":"F","s":"f","t":80,"v":3.22},{"p":"d","c":"F","s":"f","t":81,"v":3.34},{"p":"d","c":"F","s":"f","t":82,"v":2.79},{"p":"d","c":"F","s":"f","t":83,"v":2.96},
      {"p":"d","c":"F","s":"o","t":64,"v":2.50},{"p":"d","c":"F","s":"o","t":65,"v":2.38},{"p":"d","c":"F","s":"o","t":66,"v":2.62},{"p":"d","c":"F","s":"o","t":67,"v":2.59},{"p":"d","c":"F","s":"o","t":68,"v":2.55},
      {"p":"d","c":"F","s":"o","t":69,"v":2.57},{"p":"d","c":"F","s":"o","t":70,"v":2.91},{"p":"d","c":"F","s":"o","t":71,"v":2.82},{"p":"d","c":"F","s":"o","t":72,"v":3.26},{"p":"d","c":"F","s":"o","t":73,"v":3.26},
      {"p":"d","c":"F","s":"o","t":74,"v":3.11},{"p":"d","c":"F","s":"o","t":75,"v":3.18},{"p":"d","c":"F","s":"o","t":76,"v":2.97},{"p":"d","c":"F","s":"o","t":77,"v":3.03},{"p":"d","c":"F","s":"o","t":78,"v":3.01},
      {"p":"d","c":"F","s":"o","t":79,"v":3.50},{"p":"d","c":"F","s":"o","t":80,"v":3.03},{"p":"d","c":"F","s":"o","t":81,"v":2.92},{"p":"d","c":"F","s":"o","t":82,"v":2.66},{"p":"d","c":"F","s":"o","t":83,"v":3.21},
      {"p":"d","c":"S","s":"f","t":85,"v":1.50},{"p":"d","c":"S","s":"f","t":86,"v":2.11},{"p":"d","c":"S","s":"f","t":87,"v":1.99},{"p":"d","c":"S","s":"f","t":88,"v":1.88},{"p":"d","c":"S","s":"f","t":89,"v":1.40},
      {"p":"d","c":"S","s":"f","t":90,"v":1.10},{"p":"d","c":"S","s":"f","t":91,"v":1.00},{"p":"d","c":"S","s":"f","t":92,"v":1.56},{"p":"d","c":"S","s":"f","t":93,"v":1.60},{"p":"d","c":"S","s":"f","t":94,"v":1.31},
      {"p":"d","c":"S","s":"f","t":95,"v":1.30},{"p":"d","c":"S","s":"f","t":96,"v":1.40},{"p":"d","c":"S","s":"f","t":97,"v":1.16},{"p":"d","c":"S","s":"f","t":98,"v":1.34},{"p":"d","c":"S","s":"f","t":99,"v":1.33},
      {"p":"d","c":"S","s":"f","t":100,"v":1.27},{"p":"d","c":"S","s":"f","t":101,"v":1.04},{"p":"d","c":"S","s":"f","t":102,"v":1.08},{"p":"d","c":"S","s":"f","t":103,"v":1.27},{"p":"d","c":"S","s":"f","t":104,"v":1.34},
      {"p":"d","c":"S","s":"o","t":85,"v":1.24},{"p":"d","c":"S","s":"o","t":86,"v":1.40},{"p":"d","c":"S","s":"o","t":87,"v":1.78},{"p":"d","c":"S","s":"o","t":88,"v":1.88},{"p":"d","c":"S","s":"o","t":89,"v":1.86},
      {"p":"d","c":"S","s":"o","t":90,"v":2.05},{"p":"d","c":"S","s":"o","t":91,"v":2.09},{"p":"d","c":"S","s":"o","t":92,"v":2.14},{"p":"d","c":"S","s":"o","t":93,"v":1.76},{"p":"d","c":"S","s":"o","t":94,"v":2.07},
      {"p":"d","c":"S","s":"o","t":95,"v":2.15},{"p":"d","c":"S","s":"o","t":96,"v":1.88},{"p":"d","c":"S","s":"o","t":97,"v":1.98},{"p":"d","c":"S","s":"o","t":98,"v":2.11},{"p":"d","c":"S","s":"o","t":99,"v":2.12},
      {"p":"d","c":"S","s":"o","t":100,"v":2.05},{"p":"d","c":"S","s":"o","t":101,"v":2.04},{"p":"d","c":"S","s":"o","t":102,"v":2.34},{"p":"d","c":"S","s":"o","t":103,"v":2.05},{"p":"d","c":"S","s":"o","t":104,"v":2.09},

      {"p":"e","c":"R1","s":"f","t":1,"v":3.74},{"p":"e","c":"R1","s":"f","t":2,"v":3.85},{"p":"e","c":"R1","s":"f","t":3,"v":3.96},{"p":"e","c":"R1","s":"f","t":4,"v":3.58},{"p":"e","c":"R1","s":"f","t":5,"v":3.40},
      {"p":"e","c":"R1","s":"f","t":6,"v":3.46},{"p":"e","c":"R1","s":"f","t":7,"v":3.64},{"p":"e","c":"R1","s":"f","t":8,"v":3.33},{"p":"e","c":"R1","s":"f","t":9,"v":3.50},{"p":"e","c":"R1","s":"f","t":10,"v":3.63},
      {"p":"e","c":"R1","s":"f","t":11,"v":3.52},{"p":"e","c":"R1","s":"f","t":12,"v":3.64},{"p":"e","c":"R1","s":"f","t":13,"v":3.15},{"p":"e","c":"R1","s":"f","t":14,"v":3.28},{"p":"e","c":"R1","s":"f","t":15,"v":3.35},
      {"p":"e","c":"R1","s":"f","t":16,"v":3.44},{"p":"e","c":"R1","s":"f","t":17,"v":3.70},{"p":"e","c":"R1","s":"f","t":18,"v":3.15},{"p":"e","c":"R1","s":"f","t":19,"v":3.15},{"p":"e","c":"R1","s":"f","t":20,"v":3.15},
      {"p":"e","c":"R1","s":"o","t":1,"v":2.02},{"p":"e","c":"R1","s":"o","t":2,"v":2.14},{"p":"e","c":"R1","s":"o","t":3,"v":1.82},{"p":"e","c":"R1","s":"o","t":4,"v":1.98},{"p":"e","c":"R1","s":"o","t":5,"v":2.07},
      {"p":"e","c":"R1","s":"o","t":6,"v":2.19},{"p":"e","c":"R1","s":"o","t":7,"v":2.29},{"p":"e","c":"R1","s":"o","t":8,"v":2.17},{"p":"e","c":"R1","s":"o","t":9,"v":2.21},{"p":"e","c":"R1","s":"o","t":10,"v":2.19},
      {"p":"e","c":"R1","s":"o","t":11,"v":2.24},{"p":"e","c":"R1","s":"o","t":12,"v":2.19},{"p":"e","c":"R1","s":"o","t":13,"v":2.31},{"p":"e","c":"R1","s":"o","t":14,"v":2.52},{"p":"e","c":"R1","s":"o","t":15,"v":2.41},
      {"p":"e","c":"R1","s":"o","t":16,"v":2.48},{"p":"e","c":"R1","s":"o","t":17,"v":2.50},{"p":"e","c":"R1","s":"o","t":18,"v":2.46},{"p":"e","c":"R1","s":"o","t":19,"v":2.19},{"p":"e","c":"R1","s":"o","t":20,"v":2.47},
      {"p":"e","c":"R2","s":"f","t":22,"v":3.48},{"p":"e","c":"R2","s":"f","t":23,"v":3.70},{"p":"e","c":"R2","s":"f","t":24,"v":3.52},{"p":"e","c":"R2","s":"f","t":25,"v":3.58},{"p":"e","c":"R2","s":"f","t":26,"v":3.47},
      {"p":"e","c":"R2","s":"f","t":27,"v":3.35},{"p":"e","c":"R2","s":"f","t":28,"v":3.74},{"p":"e","c":"R2","s":"f","t":29,"v":3.37},{"p":"e","c":"R2","s":"f","t":30,"v":3.41},{"p":"e","c":"R2","s":"f","t":31,"v":3.44},
      {"p":"e","c":"R2","s":"f","t":32,"v":3.67},{"p":"e","c":"R2","s":"f","t":33,"v":3.29},{"p":"e","c":"R2","s":"f","t":34,"v":3.23},{"p":"e","c":"R2","s":"f","t":35,"v":3.47},{"p":"e","c":"R2","s":"f","t":36,"v":3.34},
      {"p":"e","c":"R2","s":"f","t":37,"v":3.33},{"p":"e","c":"R2","s":"f","t":38,"v":3.33},{"p":"e","c":"R2","s":"f","t":39,"v":3.33},{"p":"e","c":"R2","s":"f","t":40,"v":3.08},{"p":"e","c":"R2","s":"f","t":41,"v":3.18},
      {"p":"e","c":"R2","s":"o","t":22,"v":2.08},{"p":"e","c":"R2","s":"o","t":23,"v":2.15},{"p":"e","c":"R2","s":"o","t":24,"v":2.00},{"p":"e","c":"R2","s":"o","t":25,"v":2.01},{"p":"e","c":"R2","s":"o","t":26,"v":1.94},
      {"p":"e","c":"R2","s":"o","t":27,"v":2.31},{"p":"e","c":"R2","s":"o","t":28,"v":1.98},{"p":"e","c":"R2","s":"o","t":29,"v":2.00},{"p":"e","c":"R2","s":"o","t":30,"v":2.00},{"p":"e","c":"R2","s":"o","t":31,"v":2.09},
      {"p":"e","c":"R2","s":"o","t":32,"v":1.92},{"p":"e","c":"R2","s":"o","t":33,"v":2.52},{"p":"e","c":"R2","s":"o","t":34,"v":2.91},{"p":"e","c":"R2","s":"o","t":35,"v":2.18},{"p":"e","c":"R2","s":"o","t":36,"v":2.37},
      {"p":"e","c":"R2","s":"o","t":37,"v":2.76},{"p":"e","c":"R2","s":"o","t":38,"v":2.42},{"p":"e","c":"R2","s":"o","t":39,"v":2.42},{"p":"e","c":"R2","s":"o","t":40,"v":2.04},{"p":"e","c":"R2","s":"o","t":41,"v":2.24},
      {"p":"e","c":"R3","s":"f","t":43,"v":2.90},{"p":"e","c":"R3","s":"f","t":44,"v":3.11},{"p":"e","c":"R3","s":"f","t":45,"v":3.21},{"p":"e","c":"R3","s":"f","t":46,"v":2.96},{"p":"e","c":"R3","s":"f","t":47,"v":3.11},
      {"p":"e","c":"R3","s":"f","t":48,"v":3.25},{"p":"e","c":"R3","s":"f","t":49,"v":2.99},{"p":"e","c":"R3","s":"f","t":50,"v":3.25},{"p":"e","c":"R3","s":"f","t":51,"v":3.02},{"p":"e","c":"R3","s":"f","t":52,"v":3.08},
      {"p":"e","c":"R3","s":"f","t":53,"v":3.11},{"p":"e","c":"R3","s":"f","t":54,"v":2.96},{"p":"e","c":"R3","s":"f","t":55,"v":2.95},{"p":"e","c":"R3","s":"f","t":56,"v":2.99},{"p":"e","c":"R3","s":"f","t":57,"v":3.25},
      {"p":"e","c":"R3","s":"f","t":58,"v":3.15},{"p":"e","c":"R3","s":"f","t":59,"v":3.02},{"p":"e","c":"R3","s":"f","t":60,"v":3.28},{"p":"e","c":"R3","s":"f","t":61,"v":3.08},{"p":"e","c":"R3","s":"f","t":62,"v":3.27},
      {"p":"e","c":"R3","s":"o","t":43,"v":1.88},{"p":"e","c":"R3","s":"o","t":44,"v":2.08},{"p":"e","c":"R3","s":"o","t":45,"v":2.44},{"p":"e","c":"R3","s":"o","t":46,"v":2.25},{"p":"e","c":"R3","s":"o","t":47,"v":2.08},
      {"p":"e","c":"R3","s":"o","t":48,"v":2.19},{"p":"e","c":"R3","s":"o","t":49,"v":2.01},{"p":"e","c":"R3","s":"o","t":50,"v":2.99},{"p":"e","c":"R3","s":"o","t":51,"v":2.59},{"p":"e","c":"R3","s":"o","t":52,"v":2.96},
      {"p":"e","c":"R3","s":"o","t":53,"v":2.60},{"p":"e","c":"R3","s":"o","t":54,"v":3.02},{"p":"e","c":"R3","s":"o","t":55,"v":2.90},{"p":"e","c":"R3","s":"o","t":56,"v":2.42},{"p":"e","c":"R3","s":"o","t":57,"v":2.25},
      {"p":"e","c":"R3","s":"o","t":58,"v":2.17},{"p":"e","c":"R3","s":"o","t":59,"v":2.58},{"p":"e","c":"R3","s":"o","t":60,"v":2.25},{"p":"e","c":"R3","s":"o","t":61,"v":2.27},{"p":"e","c":"R3","s":"o","t":62,"v":2.50},
      {"p":"e","c":"F","s":"f","t":64,"v":3.96},{"p":"e","c":"F","s":"f","t":65,"v":3.93},{"p":"e","c":"F","s":"f","t":66,"v":4.03},{"p":"e","c":"F","s":"f","t":67,"v":3.74},{"p":"e","c":"F","s":"f","t":68,"v":3.70},
      {"p":"e","c":"F","s":"f","t":69,"v":3.89},{"p":"e","c":"F","s":"f","t":70,"v":3.78},{"p":"e","c":"F","s":"f","t":71,"v":3.86},{"p":"e","c":"F","s":"f","t":72,"v":3.62},{"p":"e","c":"F","s":"f","t":73,"v":3.98},
      {"p":"e","c":"F","s":"f","t":74,"v":3.62},{"p":"e","c":"F","s":"f","t":75,"v":3.74},{"p":"e","c":"F","s":"f","t":76,"v":3.72},{"p":"e","c":"F","s":"f","t":77,"v":3.60},{"p":"e","c":"F","s":"f","t":78,"v":3.87},
      {"p":"e","c":"F","s":"f","t":79,"v":3.93},{"p":"e","c":"F","s":"f","t":80,"v":3.91},{"p":"e","c":"F","s":"f","t":81,"v":3.58},{"p":"e","c":"F","s":"f","t":82,"v":3.64},{"p":"e","c":"F","s":"f","t":83,"v":3.51},
      {"p":"e","c":"F","s":"o","t":64,"v":3.19},{"p":"e","c":"F","s":"o","t":65,"v":3.23},{"p":"e","c":"F","s":"o","t":66,"v":3.06},{"p":"e","c":"F","s":"o","t":67,"v":3.12},{"p":"e","c":"F","s":"o","t":68,"v":3.23},
      {"p":"e","c":"F","s":"o","t":69,"v":3.11},{"p":"e","c":"F","s":"o","t":70,"v":3.22},{"p":"e","c":"F","s":"o","t":71,"v":3.31},{"p":"e","c":"F","s":"o","t":72,"v":3.33},{"p":"e","c":"F","s":"o","t":73,"v":3.34},
      {"p":"e","c":"F","s":"o","t":74,"v":3.63},{"p":"e","c":"F","s":"o","t":75,"v":3.51},{"p":"e","c":"F","s":"o","t":76,"v":3.72},{"p":"e","c":"F","s":"o","t":77,"v":3.74},{"p":"e","c":"F","s":"o","t":78,"v":3.12},
      {"p":"e","c":"F","s":"o","t":79,"v":3.57},{"p":"e","c":"F","s":"o","t":80,"v":3.29},{"p":"e","c":"F","s":"o","t":81,"v":3.40},{"p":"e","c":"F","s":"o","t":82,"v":3.62},{"p":"e","c":"F","s":"o","t":83,"v":3.91},
      {"p":"e","c":"S","s":"f","t":85,"v":2.07},{"p":"e","c":"S","s":"f","t":86,"v":1.98},{"p":"e","c":"S","s":"f","t":87,"v":2.24},{"p":"e","c":"S","s":"f","t":88,"v":2.27},{"p":"e","c":"S","s":"f","t":89,"v":2.18},
      {"p":"e","c":"S","s":"f","t":90,"v":1.92},{"p":"e","c":"S","s":"f","t":91,"v":2.18},{"p":"e","c":"S","s":"f","t":92,"v":1.96},{"p":"e","c":"S","s":"f","t":93,"v":2.04},{"p":"e","c":"S","s":"f","t":94,"v":2.14},
      {"p":"e","c":"S","s":"f","t":95,"v":2.14},{"p":"e","c":"S","s":"f","t":96,"v":2.00},{"p":"e","c":"S","s":"f","t":97,"v":1.96},{"p":"e","c":"S","s":"f","t":98,"v":1.83},{"p":"e","c":"S","s":"f","t":99,"v":1.85},
      {"p":"e","c":"S","s":"f","t":100,"v":2.17},{"p":"e","c":"S","s":"f","t":101,"v":2.11},{"p":"e","c":"S","s":"f","t":102,"v":2.05},{"p":"e","c":"S","s":"f","t":103,"v":1.94},{"p":"e","c":"S","s":"f","t":104,"v":2.11},
      {"p":"e","c":"S","s":"o","t":85,"v":1.28},{"p":"e","c":"S","s":"o","t":86,"v":1.27},{"p":"e","c":"S","s":"o","t":87,"v":1.27},{"p":"e","c":"S","s":"o","t":88,"v":1.17},{"p":"e","c":"S","s":"o","t":89,"v":1.34},
      {"p":"e","c":"S","s":"o","t":90,"v":1.33},{"p":"e","c":"S","s":"o","t":91,"v":1.40},{"p":"e","c":"S","s":"o","t":92,"v":1.24},{"p":"e","c":"S","s":"o","t":93,"v":1.30},{"p":"e","c":"S","s":"o","t":94,"v":1.27},
      {"p":"e","c":"S","s":"o","t":95,"v":1.30},{"p":"e","c":"S","s":"o","t":96,"v":1.55},{"p":"e","c":"S","s":"o","t":97,"v":1.48},{"p":"e","c":"S","s":"o","t":98,"v":1.11},{"p":"e","c":"S","s":"o","t":99,"v":1.53},
      {"p":"e","c":"S","s":"o","t":100,"v":1.40},{"p":"e","c":"S","s":"o","t":101,"v":1.46},{"p":"e","c":"S","s":"o","t":102,"v":1.50},{"p":"e","c":"S","s":"o","t":103,"v":1.49},{"p":"e","c":"S","s":"o","t":104,"v":1.42}
    ]
  },
  "bounds": "flush",
  "columns": 2,
  "spacing": {"row": 41, "column": 130},
  "concat": [
    {
      "width": 566, "height": 259,
      "layer": [
        {"data": {"name": "targets"}, "transform": [{"filter": "datum.p == 'a'"}],
         "mark": {"type": "rule", "color": "#c1272d", "strokeWidth": 4.5},
         "encoding": {
           "x": {"field": "t0", "type": "quantitative", "scale": {"domain": [0, 94.33], "nice": false, "zero": false},
                 "axis": {"title": null, "values": [11.2, 29.5, 47.5, 67, 86.8], "labelPadding": -8,
                          "labelExpr": "datum.value < 20 ? 'Round 1' : datum.value < 37 ? 'Round 2' : datum.value < 58 ? 'Round 3' : datum.value < 80 ? 'Fast Transfer' : 'Slow Transfer'"}},
           "x2": {"field": "t1"},
           "y": {"field": "v", "type": "quantitative", "scale": {"domain": [0, 4.5], "nice": false},
                 "axis": {"title": null, "values": [0, 0.5, 1, 1.5, 2, 2.5, 3, 3.5, 4, 4.5], "format": "~g", "labelOverlap": false}}
         }},
        {"data": {"name": "pts"}, "transform": [{"filter": "datum.p == 'a' && datum.s == 'o'"}],
         "mark": {"type": "circle", "size": 40, "fill": "#ffffff", "stroke": "#1a1a1a", "strokeWidth": 1.3, "opacity": 1},
         "encoding": {"x": {"field": "t", "type": "quantitative"},
                      "y": {"field": "v", "type": "quantitative", "axis": {"title": null, "values": [0, 0.5, 1, 1.5, 2, 2.5, 3, 3.5, 4, 4.5], "format": "~g", "labelOverlap": false}}}},
        {"data": {"name": "pts"}, "transform": [{"filter": "datum.p == 'a' && datum.s == 'f'"}],
         "mark": {"type": "circle", "size": 40, "fill": "#7d7d7d", "stroke": "#1a1a1a", "strokeWidth": 1.3, "opacity": 1},
         "encoding": {"x": {"field": "t", "type": "quantitative"},
                      "y": {"field": "v", "type": "quantitative", "axis": {"title": null, "values": [0, 0.5, 1, 1.5, 2, 2.5, 3, 3.5, 4, 4.5], "format": "~g", "labelOverlap": false}}}},
        {"data": {"name": "targets"}, "transform": [{"filter": "datum.p == 'a'"}],
         "mark": {"type": "text", "fontSize": 17, "align": "center", "baseline": "middle"},
         "encoding": {"x": {"field": "lx", "type": "quantitative"},
                      "y": {"field": "ly", "type": "quantitative", "axis": {"title": null, "values": [0, 0.5, 1, 1.5, 2, 2.5, 3, 3.5, 4, 4.5], "format": "~g", "labelOverlap": false}},
                      "text": {"field": "speed"}}},
        {"data": {"values": [{}]},
         "mark": {"type": "text", "fontSize": 18, "align": "center", "baseline": "middle"},
         "encoding": {"x": {"datum": 4, "type": "quantitative"},
                      "y": {"datum": 4.55, "type": "quantitative", "axis": {"title": null, "values": [0, 0.5, 1, 1.5, 2, 2.5, 3, 3.5, 4, 4.5], "format": "~g", "labelOverlap": false}},
                      "text": {"value": "a."}}},
        {"data": {"values": [{}]},
         "mark": {"type": "text", "fontSize": 21, "align": "center", "baseline": "middle"},
         "encoding": {"x": {"datum": 46, "type": "quantitative"},
                      "y": {"datum": 4.31, "type": "quantitative", "axis": {"title": null, "values": [0, 0.5, 1, 1.5, 2, 2.5, 3, 3.5, 4, 4.5], "format": "~g", "labelOverlap": false}},
                      "text": {"value": "Gradual_1"}}}
      ]
    },
    {
      "width": 565, "height": 259,
      "layer": [
        {"data": {"name": "targets"}, "transform": [{"filter": "datum.p == 'd'"}],
         "mark": {"type": "rule", "color": "#c1272d", "strokeWidth": 4.5},
         "encoding": {
           "x": {"field": "t0", "type": "quantitative", "scale": {"domain": [0, 105], "nice": false, "zero": false},
                 "axis": {"title": null, "values": [11.3, 32.2, 52.6, 73.6, 95.7], "labelPadding": -10,
                          "labelExpr": "datum.value < 21 ? 'Round 1' : datum.value < 42 ? 'Round 2' : datum.value < 63 ? 'Round 3' : datum.value < 84 ? 'Fast Transfer' : 'Slow Transfer'"}},
           "x2": {"field": "t1"},
           "y": {"field": "v", "type": "quantitative", "scale": {"domain": [0, 4.5], "nice": false},
                 "axis": {"values": [0, 0.5, 1, 1.5, 2, 2.5, 3, 3.5, 4, 4.5], "format": "~g", "labelOverlap": false, "labelPadding": 4,
                          "title": "Peak Propulsive Ankle Power (W/Kg•m)", "titleFont": "Open Sans", "titleFontSize": 23, "titleFontWeight": "normal", "titleColor": "#231f20", "titlePadding": 18, "titleY": 239}}
         }},
        {"data": {"name": "pts"}, "transform": [{"filter": "datum.p == 'd' && datum.s == 'o'"}],
         "mark": {"type": "circle", "size": 40, "fill": "#ffffff", "stroke": "#1a1a1a", "strokeWidth": 1.3, "opacity": 1},
         "encoding": {"x": {"field": "t", "type": "quantitative"},
                      "y": {"field": "v", "type": "quantitative", "axis": {"values": [0, 0.5, 1, 1.5, 2, 2.5, 3, 3.5, 4, 4.5], "format": "~g", "labelOverlap": false, "labelPadding": 4}}}},
        {"data": {"name": "pts"}, "transform": [{"filter": "datum.p == 'd' && datum.s == 'f'"}],
         "mark": {"type": "circle", "size": 40, "fill": "#7d7d7d", "stroke": "#1a1a1a", "strokeWidth": 1.3, "opacity": 1},
         "encoding": {"x": {"field": "t", "type": "quantitative"},
                      "y": {"field": "v", "type": "quantitative", "axis": {"values": [0, 0.5, 1, 1.5, 2, 2.5, 3, 3.5, 4, 4.5], "format": "~g", "labelOverlap": false, "labelPadding": 4}}}},
        {"data": {"name": "targets"}, "transform": [{"filter": "datum.p == 'd'"}],
         "mark": {"type": "text", "fontSize": 17, "align": "center", "baseline": "middle"},
         "encoding": {"x": {"field": "lx", "type": "quantitative"},
                      "y": {"field": "ly", "type": "quantitative", "axis": {"values": [0, 0.5, 1, 1.5, 2, 2.5, 3, 3.5, 4, 4.5], "format": "~g", "labelOverlap": false, "labelPadding": 4}},
                      "text": {"field": "speed"}}},
        {"data": {"values": [{}]},
         "mark": {"type": "text", "fontSize": 18, "align": "center", "baseline": "middle"},
         "encoding": {"x": {"datum": 4.8, "type": "quantitative"},
                      "y": {"datum": 4.55, "type": "quantitative", "axis": {"values": [0, 0.5, 1, 1.5, 2, 2.5, 3, 3.5, 4, 4.5], "format": "~g", "labelOverlap": false, "labelPadding": 4}},
                      "text": {"value": "d."}}},
        {"data": {"values": [{}]},
         "mark": {"type": "text", "fontSize": 21, "align": "center", "baseline": "middle"},
         "encoding": {"x": {"datum": 52.6, "type": "quantitative"},
                      "y": {"datum": 4.32, "type": "quantitative", "axis": {"values": [0, 0.5, 1, 1.5, 2, 2.5, 3, 3.5, 4, 4.5], "format": "~g", "labelOverlap": false, "labelPadding": 4}},
                      "text": {"value": "Sudden_1"}}}
      ]
    },
    {
      "width": 566, "height": 259,
      "layer": [
        {"data": {"name": "targets"}, "transform": [{"filter": "datum.p == 'b'"}],
         "mark": {"type": "rule", "color": "#c1272d", "strokeWidth": 4.5},
         "encoding": {
           "x": {"field": "t0", "type": "quantitative", "scale": {"domain": [-0.19, 84.3], "nice": false, "zero": false},
                 "axis": {"title": null, "values": [11.3, 32.5, 52.2, 73.2], "labelPadding": -11,
                          "labelExpr": "datum.value < 21 ? 'Round 1' : datum.value < 42 ? 'Round 2' : datum.value < 63 ? 'Fast Transfer' : 'Slow Transfer'"}},
           "x2": {"field": "t1"},
           "y": {"field": "v", "type": "quantitative", "scale": {"domain": [0, 4.5], "nice": false},
                 "axis": {"values": [0, 0.5, 1, 1.5, 2, 2.5, 3, 3.5, 4, 4.5], "format": "~g", "labelOverlap": false,
                          "title": "Peak Propulsive Ankle Power (W/Kg•m)", "titleFont": "Open Sans", "titleFontSize": 23, "titleFontWeight": "normal", "titleColor": "#231f20", "titlePadding": 22}}
         }},
        {"data": {"name": "pts"}, "transform": [{"filter": "datum.p == 'b' && datum.s == 'o'"}],
         "mark": {"type": "circle", "size": 40, "fill": "#ffffff", "stroke": "#1a1a1a", "strokeWidth": 1.3, "opacity": 1},
         "encoding": {"x": {"field": "t", "type": "quantitative"},
                      "y": {"field": "v", "type": "quantitative", "axis": {"values": [0, 0.5, 1, 1.5, 2, 2.5, 3, 3.5, 4, 4.5], "format": "~g", "labelOverlap": false}}}},
        {"data": {"name": "pts"}, "transform": [{"filter": "datum.p == 'b' && datum.s == 'f'"}],
         "mark": {"type": "circle", "size": 40, "fill": "#7d7d7d", "stroke": "#1a1a1a", "strokeWidth": 1.3, "opacity": 1},
         "encoding": {"x": {"field": "t", "type": "quantitative"},
                      "y": {"field": "v", "type": "quantitative", "axis": {"values": [0, 0.5, 1, 1.5, 2, 2.5, 3, 3.5, 4, 4.5], "format": "~g", "labelOverlap": false}}}},
        {"data": {"name": "targets"}, "transform": [{"filter": "datum.p == 'b'"}],
         "mark": {"type": "text", "fontSize": 17, "align": "center", "baseline": "middle"},
         "encoding": {"x": {"field": "lx", "type": "quantitative"},
                      "y": {"field": "ly", "type": "quantitative", "axis": {"values": [0, 0.5, 1, 1.5, 2, 2.5, 3, 3.5, 4, 4.5], "format": "~g", "labelOverlap": false}},
                      "text": {"field": "speed"}}},
        {"data": {"values": [{}]},
         "mark": {"type": "text", "fontSize": 18, "align": "center", "baseline": "middle"},
         "encoding": {"x": {"datum": 4.4, "type": "quantitative"},
                      "y": {"datum": 4.55, "type": "quantitative", "axis": {"values": [0, 0.5, 1, 1.5, 2, 2.5, 3, 3.5, 4, 4.5], "format": "~g", "labelOverlap": false}},
                      "text": {"value": "b."}}},
        {"data": {"values": [{}]},
         "mark": {"type": "text", "fontSize": 21, "align": "center", "baseline": "middle"},
         "encoding": {"x": {"datum": 41.1, "type": "quantitative"},
                      "y": {"datum": 4.15, "type": "quantitative", "axis": {"values": [0, 0.5, 1, 1.5, 2, 2.5, 3, 3.5, 4, 4.5], "format": "~g", "labelOverlap": false}},
                      "text": {"value": "Gradual_2"}}}
      ]
    },
    {
      "width": 565, "height": 259,
      "layer": [
        {"data": {"name": "targets"}, "transform": [{"filter": "datum.p == 'e'"}],
         "mark": {"type": "rule", "color": "#c1272d", "strokeWidth": 4.5},
         "encoding": {
           "x": {"field": "t0", "type": "quantitative", "scale": {"domain": [0, 105], "nice": false, "zero": false},
                 "axis": {"title": null, "values": [11.3, 32.5, 52.6, 74.0, 95.7], "labelPadding": -11,
                          "labelExpr": "datum.value < 21 ? 'Round 1' : datum.value < 42 ? 'Round 2' : datum.value < 63 ? 'Round 3' : datum.value < 84 ? 'Fast Transfer' : 'Slow Transfer'"}},
           "x2": {"field": "t1"},
           "y": {"field": "v", "type": "quantitative", "scale": {"domain": [0, 4.5], "nice": false},
                 "axis": {"title": null, "values": [0, 0.5, 1, 1.5, 2, 2.5, 3, 3.5, 4, 4.5], "format": "~g", "labelOverlap": false, "labelPadding": 4}}
         }},
        {"data": {"name": "pts"}, "transform": [{"filter": "datum.p == 'e' && datum.s == 'o'"}],
         "mark": {"type": "circle", "size": 40, "fill": "#ffffff", "stroke": "#1a1a1a", "strokeWidth": 1.3, "opacity": 1},
         "encoding": {"x": {"field": "t", "type": "quantitative"},
                      "y": {"field": "v", "type": "quantitative", "axis": {"title": null, "values": [0, 0.5, 1, 1.5, 2, 2.5, 3, 3.5, 4, 4.5], "format": "~g", "labelOverlap": false, "labelPadding": 4}}}},
        {"data": {"name": "pts"}, "transform": [{"filter": "datum.p == 'e' && datum.s == 'f'"}],
         "mark": {"type": "circle", "size": 40, "fill": "#7d7d7d", "stroke": "#1a1a1a", "strokeWidth": 1.3, "opacity": 1},
         "encoding": {"x": {"field": "t", "type": "quantitative"},
                      "y": {"field": "v", "type": "quantitative", "axis": {"title": null, "values": [0, 0.5, 1, 1.5, 2, 2.5, 3, 3.5, 4, 4.5], "format": "~g", "labelOverlap": false, "labelPadding": 4}}}},
        {"data": {"name": "targets"}, "transform": [{"filter": "datum.p == 'e'"}],
         "mark": {"type": "text", "fontSize": 17, "align": "center", "baseline": "middle"},
         "encoding": {"x": {"field": "lx", "type": "quantitative"},
                      "y": {"field": "ly", "type": "quantitative", "axis": {"title": null, "values": [0, 0.5, 1, 1.5, 2, 2.5, 3, 3.5, 4, 4.5], "format": "~g", "labelOverlap": false, "labelPadding": 4}},
                      "text": {"field": "speed"}}},
        {"data": {"values": [{}]},
         "mark": {"type": "text", "fontSize": 18, "align": "center", "baseline": "middle"},
         "encoding": {"x": {"datum": 4.8, "type": "quantitative"},
                      "y": {"datum": 4.51, "type": "quantitative", "axis": {"title": null, "values": [0, 0.5, 1, 1.5, 2, 2.5, 3, 3.5, 4, 4.5], "format": "~g", "labelOverlap": false, "labelPadding": 4}},
                      "text": {"value": "e."}}},
        {"data": {"values": [{}]},
         "mark": {"type": "text", "fontSize": 21, "align": "center", "baseline": "middle"},
         "encoding": {"x": {"datum": 52.0, "type": "quantitative"},
                      "y": {"datum": 4.17, "type": "quantitative", "axis": {"title": null, "values": [0, 0.5, 1, 1.5, 2, 2.5, 3, 3.5, 4, 4.5], "format": "~g", "labelOverlap": false, "labelPadding": 4}},
                      "text": {"value": "Sudden_2"}}}
      ]
    },
    {
      "width": 566, "height": 266,
      "layer": [
        {"data": {"name": "targets"}, "transform": [{"filter": "datum.p == 'c'"}],
         "mark": {"type": "rule", "color": "#c1272d", "strokeWidth": 4.5},
         "encoding": {
           "x": {"field": "t0", "type": "quantitative", "scale": {"domain": [0, 105.2], "nice": false, "zero": false},
                 "axis": {"title": null, "values": [11.3, 32.9, 52.8, 73.6, 96.1], "labelPadding": -6,
                          "labelExpr": "datum.value < 21 ? 'Round 1' : datum.value < 42 ? 'Round 2' : datum.value < 63 ? 'Round 3' : datum.value < 84 ? 'Fast Transfer' : 'Slow Transfer'"}},
           "x2": {"field": "t1"},
           "y": {"field": "v", "type": "quantitative", "scale": {"domain": [0, 4.62], "nice": false},
                 "axis": {"title": null, "values": [0, 0.5, 1, 1.5, 2, 2.5, 3, 3.5, 4, 4.5], "format": "~g", "labelOverlap": false}}
         }},
        {"data": {"name": "pts"}, "transform": [{"filter": "datum.p == 'c' && datum.s == 'o'"}],
         "mark": {"type": "circle", "size": 40, "fill": "#ffffff", "stroke": "#1a1a1a", "strokeWidth": 1.3, "opacity": 1},
         "encoding": {"x": {"field": "t", "type": "quantitative"},
                      "y": {"field": "v", "type": "quantitative", "axis": {"title": null, "values": [0, 0.5, 1, 1.5, 2, 2.5, 3, 3.5, 4, 4.5], "format": "~g", "labelOverlap": false}}}},
        {"data": {"name": "pts"}, "transform": [{"filter": "datum.p == 'c' && datum.s == 'f'"}],
         "mark": {"type": "circle", "size": 40, "fill": "#7d7d7d", "stroke": "#1a1a1a", "strokeWidth": 1.3, "opacity": 1},
         "encoding": {"x": {"field": "t", "type": "quantitative"},
                      "y": {"field": "v", "type": "quantitative", "axis": {"title": null, "values": [0, 0.5, 1, 1.5, 2, 2.5, 3, 3.5, 4, 4.5], "format": "~g", "labelOverlap": false}}}},
        {"data": {"name": "targets"}, "transform": [{"filter": "datum.p == 'c'"}],
         "mark": {"type": "text", "fontSize": 17, "align": "center", "baseline": "middle"},
         "encoding": {"x": {"field": "lx", "type": "quantitative"},
                      "y": {"field": "ly", "type": "quantitative", "axis": {"title": null, "values": [0, 0.5, 1, 1.5, 2, 2.5, 3, 3.5, 4, 4.5], "format": "~g", "labelOverlap": false}},
                      "text": {"field": "speed"}}},
        {"data": {"values": [{}]},
         "mark": {"type": "text", "fontSize": 18, "align": "center", "baseline": "middle"},
         "encoding": {"x": {"datum": 5.4, "type": "quantitative"},
                      "y": {"datum": 4.57, "type": "quantitative", "axis": {"title": null, "values": [0, 0.5, 1, 1.5, 2, 2.5, 3, 3.5, 4, 4.5], "format": "~g", "labelOverlap": false}},
                      "text": {"value": "c."}}},
        {"data": {"values": [{}]},
         "mark": {"type": "text", "fontSize": 21, "align": "center", "baseline": "middle"},
         "encoding": {"x": {"datum": 51.1, "type": "quantitative"},
                      "y": {"datum": 4.22, "type": "quantitative", "axis": {"title": null, "values": [0, 0.5, 1, 1.5, 2, 2.5, 3, 3.5, 4, 4.5], "format": "~g", "labelOverlap": false}},
                      "text": {"value": "Gradual_3"}}}
      ]
    }
  ]
}
